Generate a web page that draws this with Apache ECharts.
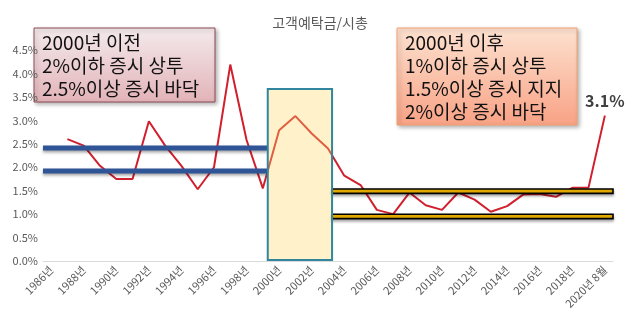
<!DOCTYPE html>
<html>
<head>
<meta charset="utf-8">
<script src="https://cdn.jsdelivr.net/npm/echarts@6/dist/echarts.min.js"></script>
<style>
  html, body { margin: 0; padding: 0; background: #fff; }
  #c { width: 640px; height: 335px; }
</style>
</head>
<body>
<div id="c"></div>
<script>
// Years on the category axis (the last one is a partial year)
const categories = [
  '1986년','1987년','1988년','1989년','1990년','1991년','1992년','1993년','1994년',
  '1995년','1996년','1997년','1998년','1999년','2000년','2001년','2002년','2003년',
  '2004년','2005년','2006년','2007년','2008년','2009년','2010년','2011년','2012년',
  '2013년','2014년','2015년','2016년','2017년','2018년','2019년','2020년 8월'
];

// Customer deposits / market cap, in percent
const depositRatio = [
  null, 2.60, 2.46, 2.03, 1.75, 1.75, 2.98, 2.46, 2.03,
  1.53, 2.00, 4.19, 2.58, 1.55, 2.79, 3.09, 2.72, 2.40,
  1.82, 1.62, 1.09, 1.00, 1.46, 1.19, 1.09, 1.46, 1.31,
  1.05, 1.17, 1.42, 1.43, 1.37, 1.56, 1.57, 3.1
];

// Reference bands before and after 2000 (percent)
const preLevels = [2.41, 1.92];
const postLevels = [1.49, 0.95];

// Highlighted transition period
const highlightFrom = '2000년';
const highlightTo = '2003년';
const highlightTop = 3.67;

// Note boxes
const notePre = ['2000년 이전', '2%이하 증시 상투', '2.5%이상 증시 바닥'];
const notePost = ['2000년 이후', '1%이하 증시 상투', '1.5%이상 증시 지지', '2%이상 증시 바닥'];

const FONT = '"Noto Sans CJK KR", "Noto Sans", sans-serif';
const GRID = { left: 43, right: 27, top: 50, bottom: 74 };

const chart = echarts.init(document.getElementById('c'), null, { renderer: 'canvas' });

const lastIdx = depositRatio.length - 1;
const lineData = depositRatio.map((v, i) => i === lastIdx ? {
  value: v,
  label: {
    show: true, position: 'top', distance: 6,
    formatter: p => p.value.toFixed(1) + '%',
    fontFamily: FONT, fontSize: 16, fontWeight: 'bold', color: '#404040'
  }
} : v);

chart.setOption({
  animation: false,
  title: {
    text: '고객예탁금/시총',
    left: 'center', top: 11,
    textStyle: { fontFamily: FONT, fontSize: 14, fontWeight: 'normal', color: '#595959' }
  },
  grid: GRID,
  xAxis: {
    type: 'category',
    data: categories,
    boundaryGap: true,
    axisLine: { lineStyle: { color: '#d9d9d9', width: 1 } },
    axisTick: { show: false },
    axisLabel: {
      rotate: 45, interval: 1, margin: 7,
      fontFamily: FONT, fontSize: 11, color: '#595959'
    }
  },
  yAxis: {
    type: 'value',
    min: 0, max: 4.5, interval: 0.5,
    splitLine: { show: false },
    axisLine: { show: false },
    axisTick: { show: false },
    axisLabel: {
      margin: 5,
      formatter: v => v.toFixed(1) + '%',
      fontFamily: FONT, fontSize: 11, color: '#595959'
    }
  },
  series: [{
    type: 'line',
    data: lineData,
    symbol: 'circle',
    symbolSize: 0.5,
    showSymbol: true,
    itemStyle: { color: '#D0202E' },
    connectNulls: false,
    lineStyle: { color: '#D0202E', width: 2 },
    z: 2
  }]
});

// Annotation layer positioned from the axes' own scales
const px = c => chart.convertToPixel({ xAxisIndex: 0 }, c);
const py = v => chart.convertToPixel({ yAxisIndex: 0 }, v);
const band = px(categories[1]) - px(categories[0]);
const gridL = GRID.left;
const gridR = 640 - GRID.right;
const hlL = px(highlightFrom) - band * 0.7;
const hlR = px(highlightTo) + band * 0.25;
const hlT = py(highlightTop);
const hlB = py(0) - 1;

const graphics = [];

preLevels.forEach(v => {
  graphics.push({
    type: 'rect', z: 5,
    shape: { x: gridL, y: py(v) - 2.5, width: hlL - gridL, height: 5 },
    style: { fill: '#2F5597', shadowBlur: 3, shadowOffsetY: 2, shadowColor: 'rgba(0,0,0,0.35)' }
  });
});

postLevels.forEach(v => {
  graphics.push({
    type: 'rect', z: 5,
    shape: { x: hlR, y: py(v) - 2.2, width: gridR - hlR, height: 4.4 },
    style: { fill: '#FFC000', stroke: '#000', lineWidth: 1.6, shadowBlur: 3, shadowOffsetY: 2, shadowColor: 'rgba(0,0,0,0.3)' }
  });
});

graphics.push({
  type: 'rect', z: 10,
  shape: { x: hlL, y: hlT, width: hlR - hlL, height: hlB - hlT },
  style: { fill: 'rgba(255,217,102,0.34)', stroke: '#31859C', lineWidth: 2 }
});

function noteBox(x, y, w, h, lines, top, bottom, border) {
  return {
    type: 'group', z: 20,
    children: [
      {
        type: 'rect',
        shape: { x: x, y: y, width: w, height: h },
        style: {
          fill: new echarts.graphic.LinearGradient(0, 0, 0, 1, [
            { offset: 0, color: top }, { offset: 1, color: bottom }
          ]),
          stroke: border, lineWidth: 1,
          shadowBlur: 4, shadowOffsetX: 2, shadowOffsetY: 2, shadowColor: 'rgba(0,0,0,0.3)'
        }
      },
      {
        type: 'text',
        x: x + 8, y: y + 3,
        style: {
          text: lines.join('\n'),
          fontFamily: FONT, fontSize: 19, lineHeight: 23,
          fill: '#111', verticalAlign: 'top'
        }
      }
    ]
  };
}

graphics.push(noteBox(34, 28, 181, 74, notePre, '#F4EAEC', '#E2B3B8', '#8E4B55'));
graphics.push(noteBox(397, 28, 180, 97, notePost, '#FDE2D0', '#F8A285', '#F4A070'));

chart.setOption({ graphic: graphics });
</script>
</body>
</html>
